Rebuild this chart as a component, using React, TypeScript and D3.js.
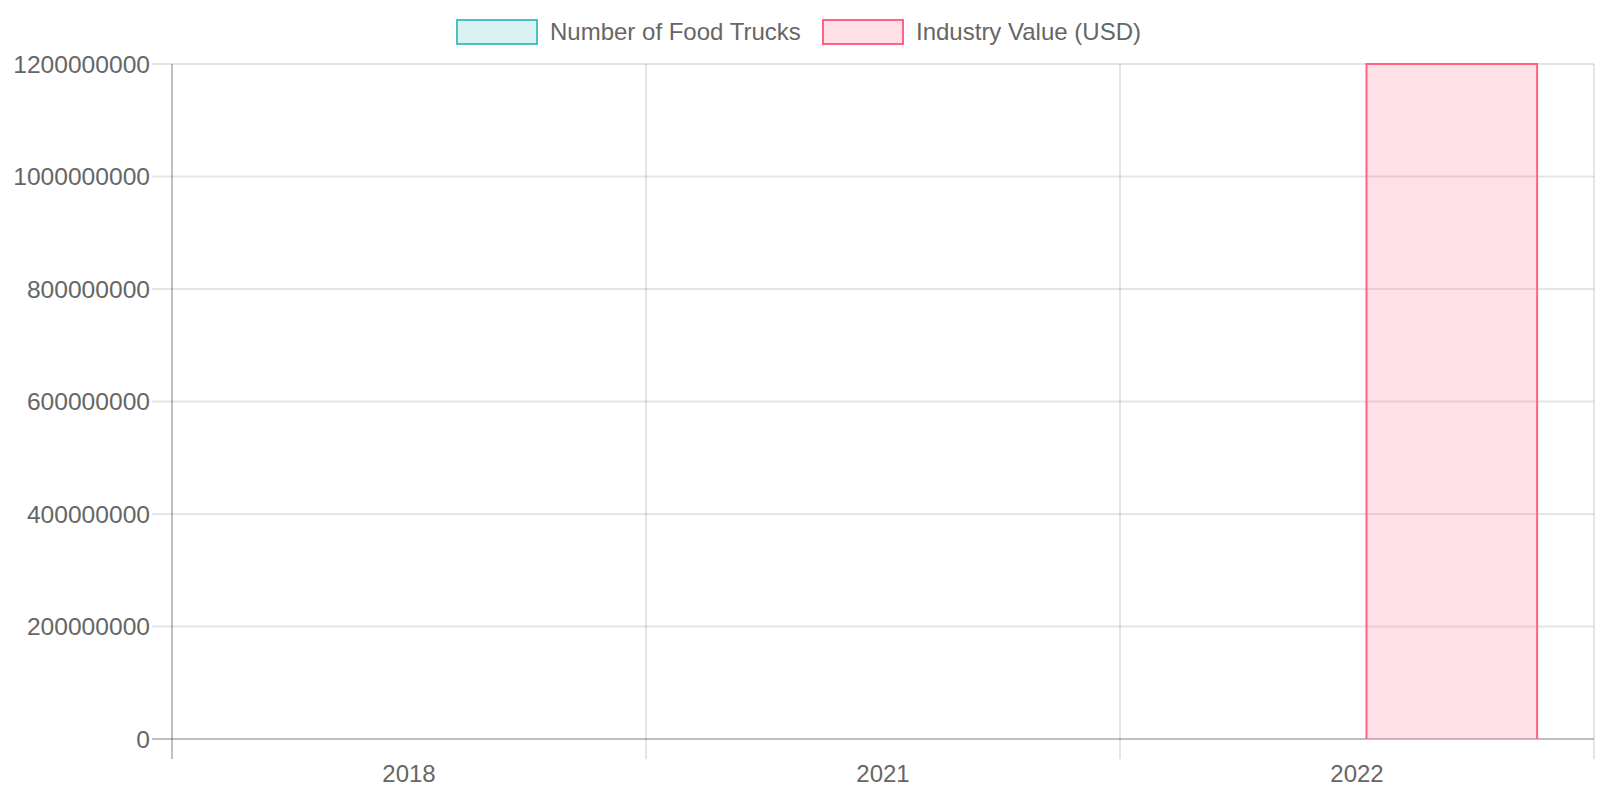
import React from "react";
import * as d3 from "d3";

const categories = ["2018", "2021", "2022"];
const seriesNames = ["Number of Food Trucks", "Industry Value (USD)"];
const foodTrucks: (number | null)[] = [null, null, null];
const industryValue: (number | null)[] = [null, null, 1200000000];
const yTicks = [0, 200000000, 400000000, 600000000, 800000000, 1000000000, 1200000000];

const strokes = ["rgb(75,192,192)", "rgb(255,99,132)"];
const fills = ["rgba(75,192,192,0.2)", "rgba(255,99,132,0.2)"];

const W = 1600;
const H = 800;
const left = 172;
const right = 1594;
const top = 64;
const bottom = 739;
const FONT = "'Liberation Sans', Arial, Helvetica, sans-serif";
const TXT = "#666";

export default function App() {
  const series = [foodTrucks, industryValue];
  const x = d3.scaleBand<string>().domain(categories).range([left, right]).paddingInner(0).paddingOuter(0);
  const bw = x.bandwidth();
  const xInner = d3
    .scaleBand<string>()
    .domain(seriesNames)
    .range([bw * 0.1, bw * 0.9])
    .paddingInner(0.1)
    .paddingOuter(0.05);
  const y = d3.scaleLinear().domain([0, 1200000000]).range([bottom, top]);

  const boundaries = categories.map((c) => x(c) as number).concat([right]);

  const legend = [
    { box: 457, text: 550 },
    { box: 823, text: 916 },
  ];

  return (
    <svg
      width={W}
      height={H}
      style={{ position: "fixed", left: 0, top: 0, background: "#fff" }}
      fontFamily={FONT}
    >
      {/* horizontal grid */}
      {yTicks.map((t) => (
        <line
          key={"h" + t}
          x1={left - 20}
          x2={right}
          y1={y(t)}
          y2={y(t)}
          stroke={t === 0 ? "rgba(0,0,0,0.25)" : "rgba(0,0,0,0.1)"}
          strokeWidth={2}
        />
      ))}
      {/* vertical grid */}
      {boundaries.map((b, i) => (
        <line
          key={"v" + i}
          x1={b}
          x2={b}
          y1={top}
          y2={bottom + 20}
          stroke={i === 0 ? "rgba(0,0,0,0.25)" : "rgba(0,0,0,0.1)"}
          strokeWidth={2}
        />
      ))}
      {/* y tick labels */}
      {yTicks.map((t) => (
        <text
          key={"yl" + t}
          x={150}
          y={y(t) + 8.6}
          textAnchor="end"
          fontSize={24.6}
          fill={TXT}
        >
          {String(t)}
        </text>
      ))}
      {/* x labels */}
      {categories.map((c) => (
        <text
          key={"xl" + c}
          x={(x(c) as number) + bw / 2}
          y={782}
          textAnchor="middle"
          fontSize={24}
          fill={TXT}
        >
          {c}
        </text>
      ))}
      {/* bars */}
      {series.map((vals, si) =>
        vals.map((v, ci) => {
          if (v === null || v === undefined) return null;
          const x0 = (x(categories[ci]) as number) + (xInner(seriesNames[si]) as number);
          const x1 = x0 + xInner.bandwidth();
          const yt = y(v);
          const yb = y(0);
          return (
            <g key={"b" + si + "-" + ci}>
              <rect x={x0} y={yt} width={x1 - x0} height={yb - yt} fill={fills[si]} />
              <path
                d={`M${x0},${yb}L${x0},${yt}L${x1},${yt}L${x1},${yb}`}
                fill="none"
                stroke={strokes[si]}
                strokeWidth={2}
              />
            </g>
          );
        })
      )}
      {/* legend */}
      {seriesNames.map((n, i) => (
        <g key={"lg" + n}>
          <rect
            x={legend[i].box}
            y={20}
            width={80}
            height={24}
            fill={fills[i]}
            stroke={strokes[i]}
            strokeWidth={2}
          />
          <text x={legend[i].text} y={40} fontSize={24} fill={TXT}>
            {n}
          </text>
        </g>
      ))}
    </svg>
  );
}
